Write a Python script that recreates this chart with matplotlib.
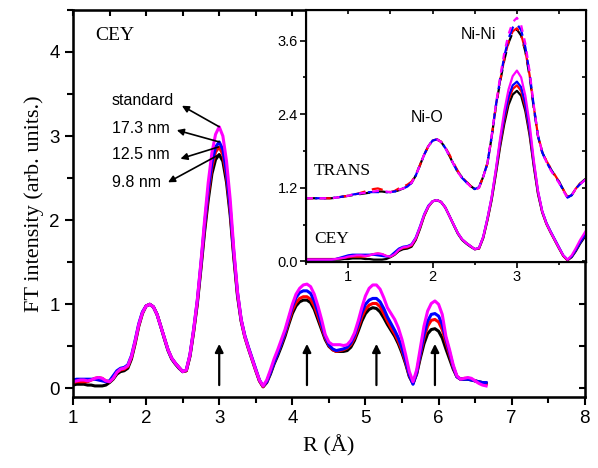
import matplotlib
matplotlib.use("Agg")
import matplotlib.pyplot as plt
from matplotlib.ticker import MultipleLocator, FormatStrFormatter

plt.rcParams["font.family"] = ["Liberation Sans", "DejaVu Sans"]

# CEY data (R in Angstrom), 0.05 step
r_cey = [0.50, 0.55, 0.60, 0.65, 0.70, 0.75, 0.80, 0.85, 0.90, 0.95,
         1.00, 1.05, 1.10, 1.15, 1.20, 1.25, 1.30, 1.35, 1.40, 1.45,
         1.50, 1.55, 1.60, 1.65, 1.70, 1.75, 1.80, 1.85, 1.90, 1.95,
         2.00, 2.05, 2.10, 2.15, 2.20, 2.25, 2.30, 2.35, 2.40, 2.45,
         2.50, 2.55, 2.60, 2.65, 2.70, 2.75, 2.80, 2.85, 2.90, 2.95,
         3.00, 3.05, 3.10, 3.15, 3.20, 3.25, 3.30, 3.35, 3.40, 3.45,
         3.50, 3.55, 3.60, 3.65, 3.70, 3.75, 3.80, 3.85, 3.90, 3.95,
         4.00, 4.05, 4.10, 4.15, 4.20, 4.25, 4.30, 4.35, 4.40, 4.45,
         4.50, 4.55, 4.60, 4.65, 4.70, 4.75, 4.80, 4.85, 4.90, 4.95,
         5.00, 5.05, 5.10, 5.15, 5.20, 5.25, 5.30, 5.35, 5.40, 5.45,
         5.50, 5.55, 5.60, 5.65, 5.70, 5.75, 5.80, 5.85, 5.90, 5.95,
         6.00, 6.05, 6.10, 6.15, 6.20, 6.25, 6.30, 6.35, 6.40, 6.45,
         6.50, 6.55, 6.60, 6.65]

cey_9_8 = [0.03, 0.03, 0.03, 0.03, 0.03, 0.03, 0.03, 0.03, 0.03, 0.04,
           0.04, 0.05, 0.05, 0.05, 0.04, 0.04, 0.03, 0.03, 0.03, 0.04,
           0.07, 0.11, 0.17, 0.20, 0.21, 0.24, 0.35, 0.53, 0.74, 0.89,
           0.98, 1.00, 0.97, 0.88, 0.74, 0.59, 0.45, 0.35, 0.29, 0.24,
           0.20, 0.21, 0.38, 0.67, 1.00, 1.42, 1.86, 2.24, 2.55, 2.72,
           2.78, 2.70, 2.45, 2.06, 1.55, 1.10, 0.80, 0.61, 0.47, 0.34,
           0.21, 0.09, 0.02, 0.07, 0.17, 0.29, 0.39, 0.50, 0.62, 0.76,
           0.89, 0.98, 1.03, 1.05, 1.05, 1.02, 0.94, 0.82, 0.70, 0.58,
           0.50, 0.46, 0.44, 0.44, 0.44, 0.45, 0.49, 0.57, 0.68, 0.80,
           0.89, 0.94, 0.96, 0.95, 0.91, 0.84, 0.76, 0.69, 0.62, 0.53,
           0.42, 0.29, 0.14, 0.06, 0.17, 0.36, 0.53, 0.65, 0.70, 0.71,
           0.68, 0.60, 0.47, 0.35, 0.23, 0.14, 0.11, 0.11, 0.11, 0.10,
           0.09, 0.08, 0.07, 0.06]

cey_12_5 = [0.04, 0.04, 0.04, 0.04, 0.04, 0.04, 0.04, 0.04, 0.05, 0.06,
            0.07, 0.08, 0.08, 0.08, 0.08, 0.10, 0.12, 0.13, 0.12, 0.09,
            0.08, 0.12, 0.19, 0.22, 0.23, 0.26, 0.37, 0.55, 0.75, 0.90,
            0.98, 1.00, 0.97, 0.88, 0.74, 0.60, 0.46, 0.36, 0.30, 0.25,
            0.20, 0.21, 0.39, 0.68, 1.02, 1.45, 1.91, 2.31, 2.63, 2.81,
            2.87, 2.78, 2.52, 2.11, 1.58, 1.12, 0.81, 0.62, 0.48, 0.35,
            0.22, 0.09, 0.02, 0.08, 0.19, 0.31, 0.42, 0.53, 0.65, 0.79,
            0.93, 1.02, 1.07, 1.09, 1.09, 1.06, 0.98, 0.86, 0.73, 0.60,
            0.51, 0.46, 0.44, 0.45, 0.46, 0.48, 0.52, 0.60, 0.72, 0.85,
            0.94, 0.99, 1.01, 1.01, 0.97, 0.89, 0.80, 0.72, 0.65, 0.56,
            0.45, 0.31, 0.15, 0.06, 0.18, 0.40, 0.60, 0.74, 0.81, 0.82,
            0.79, 0.70, 0.55, 0.40, 0.25, 0.14, 0.11, 0.12, 0.12, 0.11,
            0.09, 0.07, 0.06, 0.05]

cey_17_3 = [0.03, 0.03, 0.03, 0.03, 0.03, 0.03, 0.03, 0.04, 0.06, 0.08,
            0.10, 0.11, 0.11, 0.11, 0.11, 0.11, 0.11, 0.10, 0.09, 0.08,
            0.09, 0.15, 0.21, 0.24, 0.25, 0.28, 0.39, 0.57, 0.77, 0.91,
            0.98, 1.00, 0.97, 0.88, 0.74, 0.60, 0.46, 0.36, 0.30, 0.25,
            0.20, 0.22, 0.40, 0.70, 1.04, 1.48, 1.95, 2.36, 2.68, 2.87,
            2.93, 2.84, 2.57, 2.15, 1.61, 1.14, 0.82, 0.63, 0.49, 0.36,
            0.23, 0.10, 0.03, 0.08, 0.19, 0.31, 0.42, 0.54, 0.67, 0.82,
            0.97, 1.08, 1.14, 1.16, 1.16, 1.13, 1.04, 0.91, 0.76, 0.62,
            0.52, 0.47, 0.45, 0.46, 0.47, 0.49, 0.54, 0.63, 0.76, 0.90,
            1.00, 1.05, 1.07, 1.07, 1.03, 0.95, 0.85, 0.77, 0.69, 0.60,
            0.48, 0.33, 0.16, 0.05, 0.19, 0.42, 0.64, 0.80, 0.88, 0.89,
            0.86, 0.76, 0.59, 0.43, 0.26, 0.14, 0.11, 0.11, 0.11, 0.10,
            0.09, 0.08, 0.07, 0.07]

cey_standard = [0.03, 0.03, 0.03, 0.03, 0.03, 0.03, 0.03, 0.04, 0.05, 0.06,
                0.08, 0.09, 0.10, 0.10, 0.09, 0.10, 0.12, 0.13, 0.12, 0.09,
                0.08, 0.12, 0.19, 0.23, 0.24, 0.27, 0.38, 0.56, 0.76, 0.90,
                0.98, 1.00, 0.97, 0.88, 0.74, 0.60, 0.46, 0.36, 0.30, 0.25,
                0.20, 0.22, 0.40, 0.70, 1.05, 1.50, 2.00, 2.45, 2.80, 3.02,
                3.11, 3.00, 2.70, 2.25, 1.65, 1.15, 0.82, 0.62, 0.48, 0.35,
                0.22, 0.10, 0.03, 0.10, 0.22, 0.35, 0.46, 0.58, 0.70, 0.85,
                1.00, 1.12, 1.19, 1.23, 1.24, 1.21, 1.12, 0.98, 0.82, 0.64,
                0.55, 0.52, 0.52, 0.52, 0.51, 0.52, 0.57, 0.66, 0.80, 0.96,
                1.10, 1.19, 1.23, 1.23, 1.18, 1.08, 0.96, 0.89, 0.82, 0.72,
                0.58, 0.40, 0.20, 0.08, 0.22, 0.48, 0.74, 0.92, 1.01, 1.04,
                1.00, 0.88, 0.62, 0.46, 0.28, 0.15, 0.11, 0.12, 0.13, 0.12,
                0.09, 0.06, 0.04, 0.03]

# transmission data for the inset
r_trans = [0.50, 0.55, 0.60, 0.65, 0.70, 0.75, 0.80, 0.85, 0.90, 0.95,
           1.00, 1.05, 1.10, 1.15, 1.20, 1.25, 1.30, 1.35, 1.40, 1.45,
           1.50, 1.55, 1.60, 1.65, 1.70, 1.75, 1.80, 1.85, 1.90, 1.95,
           2.00, 2.05, 2.10, 2.15, 2.20, 2.25, 2.30, 2.35, 2.40, 2.45,
           2.50, 2.55, 2.60, 2.65, 2.70, 2.75, 2.80, 2.85, 2.90, 2.95,
           3.00, 3.05, 3.10, 3.15, 3.20, 3.25, 3.30, 3.35, 3.40, 3.45,
           3.50, 3.55, 3.60, 3.65, 3.70, 3.75, 3.80, 3.85]

trans_9_8 = [1.03, 1.03, 1.03, 1.03, 1.03, 1.03, 1.03, 1.04, 1.05, 1.06,
             1.07, 1.08, 1.09, 1.10, 1.11, 1.12, 1.13, 1.14, 1.14, 1.13,
             1.13, 1.14, 1.16, 1.19, 1.22, 1.28, 1.40, 1.57, 1.74, 1.88,
             1.97, 1.99, 1.95, 1.85, 1.72, 1.58, 1.46, 1.37, 1.30, 1.23,
             1.18, 1.21, 1.38, 1.60, 2.02, 2.52, 2.92, 3.28, 3.56, 3.73,
             3.78, 3.68, 3.42, 3.02, 2.50, 2.04, 1.78, 1.63, 1.51, 1.40,
             1.30, 1.17, 1.05, 1.08, 1.19, 1.27, 1.33, 1.38]

trans_12_5 = [1.03, 1.03, 1.03, 1.03, 1.03, 1.03, 1.03, 1.04, 1.05, 1.06,
              1.07, 1.09, 1.10, 1.12, 1.14, 1.16, 1.18, 1.19, 1.17, 1.14,
              1.13, 1.15, 1.19, 1.22, 1.25, 1.30, 1.41, 1.57, 1.74, 1.88,
              1.97, 1.99, 1.95, 1.86, 1.74, 1.60, 1.47, 1.37, 1.30, 1.23,
              1.17, 1.20, 1.38, 1.60, 2.02, 2.53, 2.94, 3.30, 3.58, 3.75,
              3.80, 3.70, 3.44, 3.04, 2.52, 2.05, 1.79, 1.64, 1.52, 1.41,
              1.30, 1.17, 1.05, 1.08, 1.19, 1.27, 1.33, 1.38]

trans_17_3 = [1.03, 1.03, 1.03, 1.03, 1.03, 1.03, 1.03, 1.04, 1.05, 1.06,
              1.07, 1.09, 1.10, 1.11, 1.12, 1.13, 1.13, 1.13, 1.13, 1.13,
              1.13, 1.14, 1.17, 1.19, 1.22, 1.28, 1.40, 1.57, 1.74, 1.88,
              1.97, 1.99, 1.95, 1.85, 1.72, 1.58, 1.45, 1.36, 1.29, 1.22,
              1.18, 1.21, 1.38, 1.60, 2.03, 2.54, 2.96, 3.34, 3.63, 3.81,
              3.87, 3.77, 3.49, 3.07, 2.53, 2.05, 1.78, 1.62, 1.50, 1.39,
              1.29, 1.16, 1.04, 1.08, 1.19, 1.26, 1.32, 1.37]

trans_standard = [1.03, 1.03, 1.03, 1.03, 1.03, 1.03, 1.03, 1.04, 1.05, 1.06,
                  1.07, 1.09, 1.10, 1.11, 1.12, 1.13, 1.14, 1.15, 1.15, 1.14,
                  1.13, 1.14, 1.17, 1.19, 1.22, 1.28, 1.40, 1.57, 1.74, 1.88,
                  1.97, 1.99, 1.95, 1.85, 1.72, 1.58, 1.45, 1.36, 1.29, 1.22,
                  1.17, 1.20, 1.38, 1.60, 2.05, 2.55, 3.00, 3.40, 3.70, 3.90,
                  3.97, 3.85, 3.55, 3.10, 2.55, 2.05, 1.78, 1.62, 1.49, 1.38,
                  1.28, 1.15, 1.04, 1.08, 1.19, 1.26, 1.32, 1.37]

sample_labels = ["9.8 nm", "12.5 nm", "17.3 nm", "standard"]
sample_colors = ["black", "red", "blue", "magenta"]
arrow_r = [3.0, 4.2, 5.15, 5.95]

cey_series = [cey_9_8, cey_12_5, cey_17_3, cey_standard]
trans_series = [trans_9_8, trans_12_5, trans_17_3, trans_standard]

fig = plt.figure(figsize=(5.98, 4.68), dpi=100)
ax = fig.add_axes([0.122, 0.152, 0.856, 0.827])

for ys, c in zip(cey_series, sample_colors):
    ax.plot(r_cey, ys, color=c, lw=2.2)

ax.set_xlim(1, 8)
ax.set_ylim(-0.1, 4.5)
ax.xaxis.set_major_locator(MultipleLocator(1))
ax.xaxis.set_minor_locator(MultipleLocator(0.5))
ax.yaxis.set_major_locator(MultipleLocator(1))
ax.yaxis.set_minor_locator(MultipleLocator(0.5))
ax.tick_params(which="both", direction="out", labelsize=13.5, width=1.5)
ax.tick_params(which="major", length=6)
ax.tick_params(which="minor", length=4)
for sp in ax.spines.values():
    sp.set_linewidth(1.8)

# top/right inward ticks
axt = ax.twiny()
axt.set_xlim(ax.get_xlim())
axt.xaxis.set_major_locator(MultipleLocator(0.5))
axt.tick_params(direction="in", length=4, width=1.5, labeltop=False)
axr = ax.twinx()
axr.set_ylim(ax.get_ylim())
axr.yaxis.set_major_locator(MultipleLocator(0.5))
axr.tick_params(direction="in", length=4, width=1.5, labelright=False)

ax.set_xlabel("R (Å)", family=["Liberation Serif"], fontsize=16, labelpad=6)
ax.set_ylabel("FT intensity (arb. units.)", family=["Liberation Serif"],
              fontsize=16, labelpad=4)
ax.text(1.30, 4.20, "CEY", family=["Liberation Serif"], fontsize=14, va="center")

for r in arrow_r:
    ax.annotate("", xy=(r, 0.53), xytext=(r, 0.04),
                arrowprops=dict(arrowstyle="-|>", color="black", lw=1.6,
                                mutation_scale=12, shrinkA=0, shrinkB=0))

label_text_y = [2.45, 2.78, 3.09, 3.42]
label_heads = [(2.30, 2.45), (2.47, 2.73), (2.42, 3.07), (2.49, 3.36)]
label_tails = [(3.0, 2.78), (2.99, 2.87), (3.0, 2.93), (3.0, 3.11)]
for lab, ty, head, tail in zip(sample_labels, label_text_y, label_heads, label_tails):
    ax.text(1.53, ty, lab, fontsize=11.5, va="center")
    ax.annotate("", xy=head, xytext=tail,
                arrowprops=dict(arrowstyle="-|>", color="black", lw=1.2,
                                mutation_scale=10, shrinkA=0, shrinkB=0))

# inset
ins = fig.add_axes([0.512, 0.440, 0.468, 0.539])
dash_styles = [(0, (5, 3)), (2, (5, 3)), (4, (5, 3)), (0, (3, 3))]
for ys, c, ls in zip(trans_series, sample_colors, dash_styles):
    ins.plot(r_trans, ys, color=c, lw=1.6, ls=ls)
for ys, c in zip(cey_series, sample_colors):
    ins.plot(r_cey, ys, color=c, lw=1.6)
ins.set_xlim(0.5, 3.82)
ins.set_ylim(-0.01, 4.1)
ins.xaxis.set_major_locator(MultipleLocator(1))
ins.xaxis.set_minor_locator(MultipleLocator(0.5))
ins.yaxis.set_major_locator(MultipleLocator(1.2))
ins.yaxis.set_minor_locator(MultipleLocator(0.6))
ins.yaxis.set_major_formatter(FormatStrFormatter("%.1f"))
ins.tick_params(which="both", direction="out", labelsize=10.5, width=1.2, pad=2)
ins.tick_params(which="major", length=4)
ins.tick_params(which="minor", length=2.5)
for sp in ins.spines.values():
    sp.set_linewidth(1.5)
inst = ins.twiny()
inst.set_xlim(ins.get_xlim())
inst.xaxis.set_major_locator(MultipleLocator(0.5))
inst.tick_params(direction="in", length=3, width=1.2, labeltop=False)
insr = ins.twinx()
insr.set_ylim(ins.get_ylim())
insr.yaxis.set_major_locator(MultipleLocator(0.6))
insr.tick_params(direction="in", length=3, width=1.2, labelright=False)

ins.text(2.54, 3.69, "Ni-Ni", fontsize=11.5, ha="center", va="center")
ins.text(1.93, 2.34, "Ni-O", fontsize=11.5, ha="center", va="center")
ins.text(0.59, 1.48, "TRANS", family=["Liberation Serif"], fontsize=12.5, va="center")
ins.text(0.59, 0.36, "CEY", family=["Liberation Serif"], fontsize=12.5, va="center")

fig.savefig("out.png", dpi=100)
